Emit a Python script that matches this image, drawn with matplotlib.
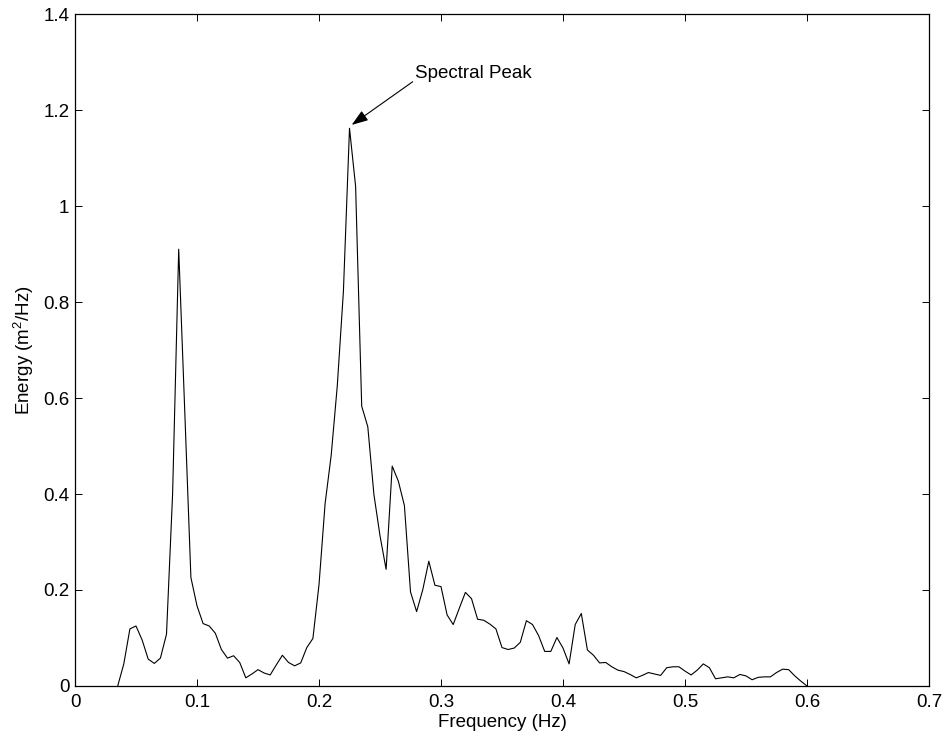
import numpy as np
import matplotlib
matplotlib.use("Agg")
from matplotlib import pyplot as plt

plt.rcParams['font.family'] = ['Liberation Sans', 'DejaVu Sans']
plt.rcParams['mathtext.fontset'] = 'custom'
plt.rcParams['mathtext.rm'] = 'Liberation Sans'
plt.rcParams['mathtext.it'] = 'Liberation Sans:italic'

# spectrum, sampled every 0.005 Hz starting at 0.035 Hz
f_start = 0.035
f_step = 0.005
energy = [
    0.0, 0.046, 0.119, 0.125, 0.096, 0.056, 0.047, 0.058, 0.108, 0.40,
    0.910, 0.57, 0.226, 0.167, 0.130, 0.125, 0.110, 0.076, 0.058, 0.063,
    0.049, 0.017, 0.025, 0.034, 0.027, 0.023, 0.044, 0.064, 0.049, 0.042,
    0.048, 0.080, 0.099, 0.211, 0.380, 0.481, 0.626, 0.822, 1.162, 1.041,
    0.583, 0.540, 0.399, 0.313, 0.243, 0.458, 0.427, 0.376, 0.196, 0.155,
    0.200, 0.260, 0.210, 0.207, 0.148, 0.128, 0.162, 0.195, 0.182, 0.139,
    0.137, 0.129, 0.119, 0.080, 0.076, 0.079, 0.091, 0.136, 0.128, 0.105,
    0.072, 0.072, 0.101, 0.079, 0.046, 0.128, 0.151, 0.075, 0.064, 0.048,
    0.049, 0.040, 0.033, 0.030, 0.024, 0.017, 0.022, 0.028, 0.025, 0.022,
    0.038, 0.040, 0.040, 0.031, 0.023, 0.033, 0.046, 0.038, 0.015, 0.017,
    0.019, 0.017, 0.024, 0.021, 0.013, 0.018, 0.019, 0.019, 0.028, 0.035,
    0.034, 0.021, 0.010, 0.0,
]
freq = f_start + f_step * np.arange(len(energy))

x_ticks = [0, 0.1, 0.2, 0.3, 0.4, 0.5, 0.6, 0.7]
y_ticks = [0, 0.2, 0.4, 0.6, 0.8, 1.0, 1.2, 1.4]

fig = plt.figure(figsize=(9.47, 7.4), dpi=100)
ax = fig.add_axes([0.0792, 0.073, 0.9018, 0.908])

ax.plot(freq, energy, color='black', linewidth=0.8)

ax.set_xlim(0, 0.7)
ax.set_ylim(0, 1.4)
ax.set_xticks(x_ticks)
ax.set_yticks(y_ticks)
ax.xaxis.set_major_formatter(matplotlib.ticker.FormatStrFormatter('%g'))
ax.yaxis.set_major_formatter(matplotlib.ticker.FormatStrFormatter('%g'))
ax.tick_params(direction='in', length=5, width=0.7, top=True, right=True,
               labelsize=13.5)
ax.tick_params(axis='x', pad=6)
ax.tick_params(axis='y', pad=4)
for s in ax.spines.values():
    s.set_linewidth(0.9)

ax.set_xlabel('Frequency (Hz)', fontsize=13.5, labelpad=2)
ax.set_ylabel('Energy (m$^2$/Hz)', fontsize=13.5, labelpad=5)

# annotation for the peak
ax.annotate('', xy=(0.2268, 1.169), xytext=(0.2768, 1.259),
            arrowprops=dict(arrowstyle='-|>,head_length=1.0,head_width=0.35',
                            color='black', lw=0.8, shrinkA=0, shrinkB=0))
ax.text(0.2787, 1.267, 'Spectral Peak', fontsize=13.5, ha='left', va='baseline')

fig.savefig('out.png', dpi=100)
